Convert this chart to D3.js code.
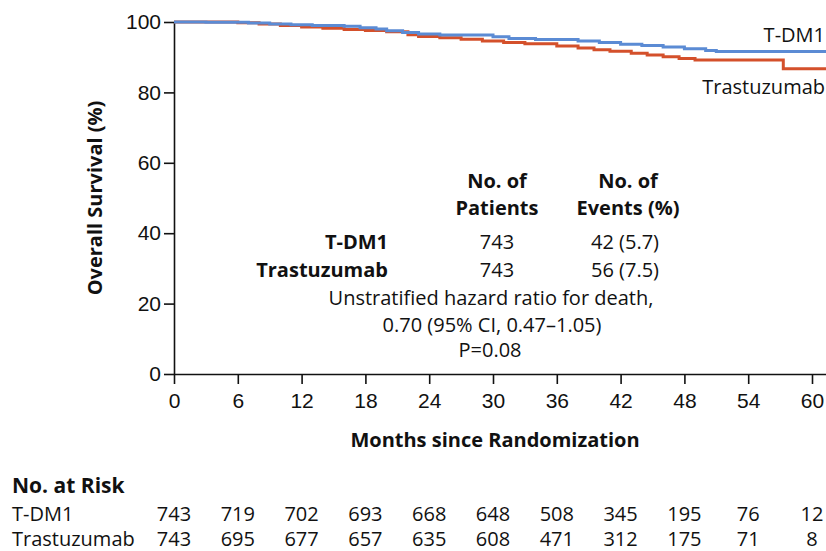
<!DOCTYPE html>
<html>
<head>
<meta charset="utf-8">
<script src="https://cdn.jsdelivr.net/npm/d3@7"></script>
<style>
  body { margin: 0; background: #fff; }
  svg { display: block; font-family: "Open Sans", sans-serif; }
  .axis text { font-size: 21px; fill: #111; }
  .axis path, .axis line { stroke: #111; stroke-width: 1.6px; }
</style>
</head>
<body>
<div id="chart"></div>
<script>
// month ticks and numbers at risk
const monthTicks = [0, 6, 12, 18, 24, 30, 36, 42, 48, 54, 60];
const riskTDM1 = [743, 719, 702, 693, 668, 648, 508, 345, 195, 76, 12];
const riskTrast = [743, 695, 677, 657, 635, 608, 471, 312, 175, 71, 8];

// Kaplan-Meier steps: [month, survival %]
const kmTDM1 = [
  [0, 100], [3, 99.9], [7, 99.7], [9, 99.4], [11, 99.2], [13, 99.0], [16, 98.8],
  [17.5, 98.4], [19, 98.0], [20, 97.5], [21.5, 97.0], [23, 96.6], [25, 96.3],
  [30, 95.8], [31.5, 95.3], [34, 95.0], [38, 94.6], [40, 94.2], [42, 93.7],
  [44, 93.3], [46, 92.9], [48, 92.4], [50, 91.9], [51, 91.6], [62, 91.6]
];
const kmTrast = [
  [0, 100], [6, 99.8], [8, 99.4], [10, 99.0], [12, 98.6], [14, 98.2], [16, 97.9],
  [18, 97.6], [20, 97.2], [22, 96.4], [23, 95.9], [25, 95.5], [27, 95.1],
  [29, 94.6], [31, 94.2], [33, 93.8], [36, 93.2], [38, 92.6], [39.5, 92.1],
  [41, 91.7], [43, 91.1], [44.5, 90.6], [46, 90.1], [47.5, 89.6], [49, 89.2],
  [57.3, 86.7], [62, 86.7]
];
const yTicks = [0, 20, 40, 60, 80, 100];

const width = 826, height = 551;
const svg = d3.select('#chart').append('svg')
    .attr('width', width)
    .attr('height', height);

let x = d3.scaleLinear().domain([0, 60]).range([174, 812]);
let y = d3.scaleLinear().domain([0, 100]).range([374, 22]);

// x axis runs off the right edge
svg.append('g')
    .attr('class', 'axis')
    .attr('transform', `translate(0,${y(0)})`)
    .call(d3.axisBottom(x.copy().domain([0, 62]).range([174, x(62)]))
        .tickValues(monthTicks).tickSize(10).tickSizeOuter(0).tickPadding(9));

svg.append('g')
    .attr('class', 'axis')
    .attr('transform', `translate(${x(0)},0)`)
    .call(d3.axisLeft(y).tickValues(yTicks).tickSize(10).tickSizeOuter(0).tickPadding(3));

svg.selectAll('.axis .domain').attr('stroke-width', 1.8);

let line = d3.line()
    .x(d => x(d[0]))
    .y(d => y(d[1]))
    .curve(d3.curveStepAfter);

svg.append('path').datum(kmTrast)
    .attr('d', line).attr('fill', 'none')
    .attr('stroke', '#d4502b').attr('stroke-width', 3);
svg.append('path').datum(kmTDM1)
    .attr('d', line).attr('fill', 'none')
    .attr('stroke', '#5b8bd4').attr('stroke-width', 3);

// curve labels
svg.append('text').attr('x', 825).attr('y', 42).attr('text-anchor', 'end')
    .style('font-size', '20px').attr('fill', '#111').text('T-DM1');
svg.append('text').attr('x', 825).attr('y', 94).attr('text-anchor', 'end')
    .style('font-size', '20px').attr('fill', '#111').text('Trastuzumab');

// axis titles
svg.append('text')
    .attr('transform', `translate(102,${y(50)}) rotate(-90)`)
    .attr('text-anchor', 'middle')
    .style('font-size', '20px').style('font-weight', 'bold').attr('fill', '#111')
    .text('Overall Survival (%)');
svg.append('text').attr('x', 495).attr('y', 447).attr('text-anchor', 'middle')
    .style('font-size', '20px').style('font-weight', 'bold').attr('fill', '#111')
    .text('Months since Randomization');

// inset table
let inset = svg.append('g').style('font-size', '20px').attr('fill', '#111');
let bold = (t, xx, yy, anchor) => inset.append('text').attr('x', xx).attr('y', yy)
    .attr('text-anchor', anchor).style('font-weight', 'bold').text(t);
let plain = (t, xx, yy, anchor) => inset.append('text').attr('x', xx).attr('y', yy)
    .attr('text-anchor', anchor).text(t);
bold('No. of', 497, 188, 'middle');
bold('Patients', 497, 215, 'middle');
bold('No. of', 628, 188, 'middle');
bold('Events (%)', 628, 215, 'middle');
bold('T-DM1', 388, 249, 'end');
bold('Trastuzumab', 388, 277, 'end');
plain('743', 497, 249, 'middle');
plain('743', 497, 277, 'middle');
plain('42 (5.7)', 659, 249, 'end');
plain('56 (7.5)', 659, 277, 'end');
plain('Unstratified hazard ratio for death,', 491, 305, 'middle');
plain('0.70 (95% CI, 0.47\u20131.05)', 492, 332, 'middle');
plain('P=0.08', 490, 357, 'middle');

// numbers at risk
let risk = svg.append('g').style('font-size', '20px').attr('fill', '#111');
risk.append('text').attr('x', 12).attr('y', 493)
    .style('font-weight', 'bold').style('font-size', '21px').text('No. at Risk');
risk.append('text').attr('x', 12).attr('y', 521).text('T-DM1');
risk.append('text').attr('x', 12).attr('y', 546).text('Trastuzumab');
risk.selectAll('.r1').data(riskTDM1).join('text')
    .attr('x', (d, i) => x(monthTicks[i])).attr('y', 521)
    .attr('text-anchor', 'middle').text(d => d);
risk.selectAll('.r2').data(riskTrast).join('text')
    .attr('x', (d, i) => x(monthTicks[i])).attr('y', 546)
    .attr('text-anchor', 'middle').text(d => d);
</script>
</body>
</html>
